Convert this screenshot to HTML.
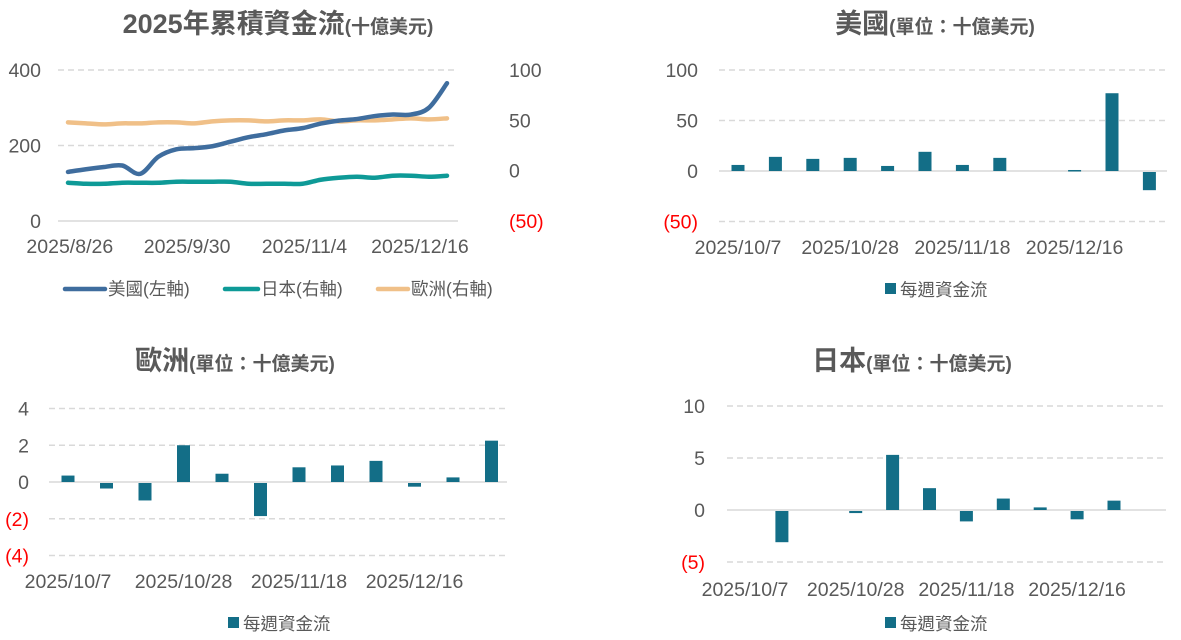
<!DOCTYPE html>
<html><head><meta charset="utf-8">
<style>
body{margin:0;background:#fff;width:1181px;height:640px;overflow:hidden;font-family:"Liberation Sans","Noto Sans CJK TC",sans-serif;}
svg{position:absolute;left:0;top:0}
text{font-family:"Liberation Sans","Noto Sans CJK TC",sans-serif;fill:#595959}
</style></head>
<body>
<svg id="svg" width="1181" height="640" xmlns="http://www.w3.org/2000/svg">
<text x="278" y="33" text-anchor="middle" font-weight="bold" font-size="27">2025年累積資金流<tspan font-size="19">(十億美元)</tspan></text>
<text x="935" y="33" text-anchor="middle" font-weight="bold" font-size="27">美國<tspan font-size="19">(單位：十億美元)</tspan></text>
<text x="235" y="370" text-anchor="middle" font-weight="bold" font-size="27">歐洲<tspan font-size="19">(單位：十億美元)</tspan></text>
<text x="912" y="370" text-anchor="middle" font-weight="bold" font-size="27">日本<tspan font-size="19">(單位：十億美元)</tspan></text>
</svg>
<script>
// ---- Chart 1 data ----
const lineLabels = ["2025/8/26","2025/9/30","2025/11/4","2025/12/16"];
const lineLabelIdx = [0.1, 6.6, 13.1, 19.5];
const usCum = [130,137,143,147,125,170,190,193,198,210,222,230,240,246,258,266,270,278,282,282,300,365];
const jpCum = [-12,-13,-13,-12,-12,-12,-11,-11,-11,-11,-13,-13,-13,-13,-9,-7,-6,-7,-5,-5,-6,-5];
const euCum = [48,47,46,47,47,48,48,47,49,50,50,49,50,50,51,49,50,50,51,52,51,52];
const leftTicks = [0,200,400];
const rightTicks = [-50,0,50,100];
// ---- Bar chart data ----
const barLabels = ["2025/10/7","2025/10/28","2025/11/18","2025/12/16"];
const barLabelIdx = [0,3,6,9];
const usWeekly = [6,14,12,13,5,19,6,13,0,1,77,-18];
const usTicks = [-50,0,50,100];
const euWeekly = [0.35,-0.3,-0.95,2.0,0.45,-1.8,0.8,0.9,1.15,-0.2,0.25,2.25];
const euTicks = [-4,-2,0,2,4];
const jpWeekly = [0,-3.0,0,-0.2,5.3,2.1,-1.0,1.1,0.25,-0.8,0.9,0];
const jpTicks = [-5,0,5,10];

const svg = document.getElementById('svg');
const NS = "http://www.w3.org/2000/svg";
const TICK=19.5, XL=19.5, LEG=17.5;
function mk(tag, attrs){const e=document.createElementNS(NS,tag);for(const k in attrs)e.setAttribute(k,attrs[k]);svg.appendChild(e);return e;}
function fmt(v){return v<0?"("+(-v)+")":String(v);}

// ---- Chart 1 ----
(function(){
  const x0=68,x1=447,gx0=58,gx1=458;
  const yL=v=>221-(v-0)*(151/400);
  const yR=v=>221-(v+50)*(151/150);
  const xs=i=>x0+i*(x1-x0)/(usCum.length-1);
  leftTicks.forEach(t=>{
    const g=mk('line',{x1:gx0,x2:gx1,y1:yL(t),y2:yL(t),stroke:'#d9d9d9','stroke-width':1.5,'stroke-dasharray':t===0?'':'6,4'});
    
    
    const tx=mk('text',{x:41,y:yL(t)+7,'text-anchor':'end','font-size':TICK});
    tx.textContent=fmt(t);
    
    
  });
  rightTicks.forEach(t=>{
    const tx=mk('text',{x:509,y:yR(t)+7,'font-size':TICK});
    tx.textContent=fmt(t);
    if(t<0)tx.style.fill='#ff0000';
    
    
  });
  lineLabels.forEach((l,i)=>{
    const tx=mk('text',{x:xs(lineLabelIdx[i]),y:253,'text-anchor':'middle','font-size':XL});
    tx.textContent=l;
    
    
  });
  function smooth(pts){
    let d="M"+pts[0][0]+","+pts[0][1];
    for(let i=0;i<pts.length-1;i++){
      const p0=pts[Math.max(0,i-1)],p1=pts[i],p2=pts[i+1],p3=pts[Math.min(pts.length-1,i+2)];
      const c1=[p1[0]+(p2[0]-p0[0])/6,p1[1]+(p2[1]-p0[1])/6];
      const c2=[p2[0]-(p3[0]-p1[0])/6,p2[1]-(p3[1]-p1[1])/6];
      d+=` C${c1[0]},${c1[1]} ${c2[0]},${c2[1]} ${p2[0]},${p2[1]}`;
    }
    return d;
  }
  const series=[[euCum,yR,'#f0c088','europe-line'],[jpCum,yR,'#0e9a97','japan-line'],[usCum,yL,'#3f6d9e','us-line']];
  series.forEach(s=>{
    const p=mk('path',{d:smooth(s[0].map((v,i)=>[xs(i),s[1](v)])),fill:'none',stroke:s[2],'stroke-width':4.5,'stroke-linecap':'round'});
    
    
  });
  const leg=[[65,105,'#3f6d9e','美國(左軸)'],[225,258,'#0e9a97','日本(右軸)'],[378,408,'#f0c088','歐洲(右軸)']];
  leg.forEach(l=>{
    const ln=mk('line',{x1:l[0],x2:l[1],y1:289,y2:289,stroke:l[2],'stroke-width':4.5,'stroke-linecap':'round'});
    
    
    const tx=mk('text',{x:l[1]+3,y:295,'font-size':LEG});
    tx.textContent=l[3];
    
    
  });
})();

// ---- bar charts ----
function barChart(o){
  const y=v=>o.yZero-v*o.pxPer;
  o.ticks.forEach(t=>{
    const g=mk('line',{x1:o.gx0,x2:o.gx1,y1:y(t),y2:y(t),stroke:'#d9d9d9','stroke-width':1.5,'stroke-dasharray':t===0?'':'6,4'});
    
    
    const tx=mk('text',{x:o.tickX,y:y(t)+7,'text-anchor':'end','font-size':TICK});
    tx.textContent=fmt(t);
    if(t<0)tx.style.fill='#ff0000';
    
    
  });
  const xs=i=>o.bx0+i*o.step;
  o.data.forEach((v,i)=>{
    if(v===0)return;
    const top=Math.min(y(v),y(0)), h=Math.max(Math.abs(y(v)-y(0)),1.5);
    const r=mk('rect',{x:xs(i)-6.5,y:v<0?y(0)+1:top,width:13,height:h,fill:'#136e87'});
    
    
  });
  barLabels.forEach((l,i)=>{
    const tx=mk('text',{x:xs(barLabelIdx[i]),y:o.labelY,'text-anchor':'middle','font-size':XL});
    tx.textContent=l;
    
    
  });
  const sq=mk('rect',{x:o.legX,y:o.legY-13,width:11,height:11,fill:'#136e87'});
  
  
  const tx=mk('text',{x:o.legX+15,y:o.legY,'font-size':LEG});
  tx.textContent='每週資金流';
  
  
}
barChart({name:'us',data:usWeekly,ticks:usTicks,yZero:171,pxPer:101/100,gx0:719,gx1:1167,tickX:698,bx0:738,step:37.4,labelY:254,legX:885,legY:296});
barChart({name:'eu',data:euWeekly,ticks:euTicks,yZero:482,pxPer:73.5/4,gx0:49,gx1:507,tickX:29,bx0:68,step:38.5,labelY:588,legX:228,legY:630});
barChart({name:'jp',data:jpWeekly,ticks:jpTicks,yZero:510,pxPer:104/10,gx0:727,gx1:1166,tickX:705,bx0:745,step:36.9,labelY:596,legX:885,legY:630});
</script>
</body></html>
